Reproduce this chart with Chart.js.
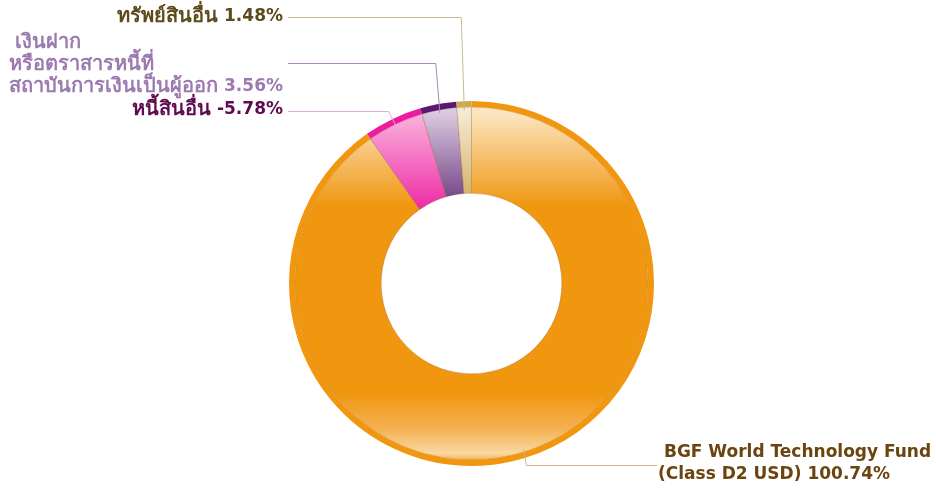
<!DOCTYPE html>
<html>
<head>
<meta charset="utf-8">
<script src="https://cdn.jsdelivr.net/npm/chart.js@4.4.1/dist/chart.umd.min.js"></script>
<style>
  html, body { margin: 0; padding: 0; background: #fff; }
  #wrap { width: 936px; height: 489px; }
</style>
</head>
<body>
<div id="wrap"><canvas id="alloc-chart"></canvas></div>
<script>
// ── data ──────────────────────────────────────────────────────────────────────
const categories = [
  'BGF World Technology Fund (Class D2 USD)',
  'หนี้สินอื่น',
  'เงินฝาก หรือตราสารหนี้ที่สถาบันการเงินเป็นผู้ออก',
  'ทรัพย์สินอื่น'
];
const weights = [100.74, -5.78, 3.56, 1.48];   // % of NAV
const labelText = [
  [' BGF World Technology Fund', '(Class D2 USD) '],
  ['หนี้สินอื่น '],
  [' เงินฝาก', 'หรือตราสารหนี้ที่', 'สถาบันการเงินเป็นผู้ออก '],
  ['ทรัพย์สินอื่น ']
];

// ── styling ───────────────────────────────────────────────────────────────────
const rimColors   = ['#F0960F', '#EC1C9C', '#5A1870', '#D2A64A'];
const lightColors = ['#FCE6C2', '#FAB6DE', '#DCCBE0', '#F4EAD4'];
const fullColors  = ['#F0960F', '#EE2EA6', '#6C3A80', '#D4AC58'];
const textColors  = ['#6B4410', '#5E0A4E', '#9C7AB0', '#5C4A1A'];
const lineColors  = ['#D2B68C', '#E2A8D4', '#A88AB8', '#C8B894'];
const FONT_LATIN = 'bold 17px "DejaVu Sans", Tahoma, sans-serif';
const FONT_THAI  = 'bold 20px "DejaVu Sans", Tahoma, sans-serif';

// label placement (outside the ring)
const labelLayout = [
  { side: 'right', x: 658, ys: [453, 475], lineY: 465, elbowDx: 3 },
  { side: 'left',  x: 283, ys: [110],        lineY: 111, elbowDx: -8 },
  { side: 'left',  x: 283, ys: [43, 65, 87], lineY: 63,  elbowDx: -4 },
  { side: 'left',  x: 283, ys: [17],         lineY: 17,  elbowDx: -3 }
];

const sizes = weights.map(v => Math.abs(v));
const pct = v => `${v.toFixed(2)}%`;

function glossFill(ctx) {
  const chart = ctx.chart;
  const area = chart.chartArea;
  const i = ctx.dataIndex;
  if (!area) return fullColors[i];
  const g = chart.ctx.createLinearGradient(0, area.top, 0, area.bottom);
  g.addColorStop(0, lightColors[i]);
  g.addColorStop(0.03, lightColors[i]);
  g.addColorStop(0.29, fullColors[i]);
  g.addColorStop(0.80, fullColors[i]);
  g.addColorStop(0.90, i === 0 ? '#F4B254' : fullColors[i]);
  g.addColorStop(0.965, i === 0 ? '#F9D8A0' : fullColors[i]);
  g.addColorStop(1, fullColors[i]);
  return g;
}

// split a string into thai / non-thai runs so each gets its own font size
function runs(s) {
  return s.match(/[\u0E00-\u0E7F]+|[^\u0E00-\u0E7F]+/g) || [];
}
function runFont(r) { return /[\u0E00-\u0E7F]/.test(r) ? FONT_THAI : FONT_LATIN; }
function lineWidth(c, s) {
  return runs(s).reduce((w, r) => { c.font = runFont(r); return w + c.measureText(r).width; }, 0);
}
function drawLine(c, s, x, y) {
  runs(s).forEach(r => {
    c.font = runFont(r);
    c.fillText(r, x, y);
    x += c.measureText(r).width;
  });
}

const leaderLabels = {
  id: 'leaderLabels',
  afterDraw(chart) {
    const c = chart.ctx;
    const rim = chart.getDatasetMeta(0).data;
    const arcs = chart.getDatasetMeta(1).data;
    c.save();
    c.textBaseline = 'middle';
    c.textAlign = 'left';
    arcs.forEach((arc, i) => {
      const L = labelLayout[i];
      const mid = (arc.startAngle + arc.endAngle) / 2;
      const r = rim[i].outerRadius * 0.95;
      const ax = arc.x + Math.cos(mid) * r;
      const ay = arc.y + Math.sin(mid) * r;
      const lines = labelText[i].slice();
      lines[lines.length - 1] += pct(weights[i]);

      c.strokeStyle = lineColors[i];
      c.lineWidth = 1;
      c.beginPath();
      c.moveTo(ax, ay);
      c.lineTo(ax + L.elbowDx, L.lineY + 0.5);
      c.lineTo(L.side === 'left' ? L.x + 5 : L.x - 1, L.lineY + 0.5);
      c.stroke();

      c.fillStyle = textColors[i];
      let x0 = L.x;
      if (L.side === 'left') {
        const w = Math.max(...lines.map(s => lineWidth(c, s)));
        x0 = L.x - w;
      }
      lines.forEach((s, k) => drawLine(c, s, x0, L.ys[k]));
    });
    c.restore();
  }
};

new Chart(document.getElementById('alloc-chart'), {
  type: 'doughnut',
  data: {
    labels: categories,
    datasets: [
      { data: sizes, backgroundColor: rimColors, borderWidth: 0, weight: 6 },
      { data: sizes, backgroundColor: glossFill, borderWidth: 0.8, borderColor: 'rgba(130,80,30,0.35)', weight: 86 }
    ]
  },
  options: {
    responsive: true, maintainAspectRatio: false, animation: false,
    cutout: '49.5%',
    layout: { padding: { top: 101, bottom: 23, left: 289, right: 282 } },
    plugins: { legend: { display: false }, tooltip: { enabled: false } }
  },
  plugins: [leaderLabels]
});
</script>
</body>
</html>
